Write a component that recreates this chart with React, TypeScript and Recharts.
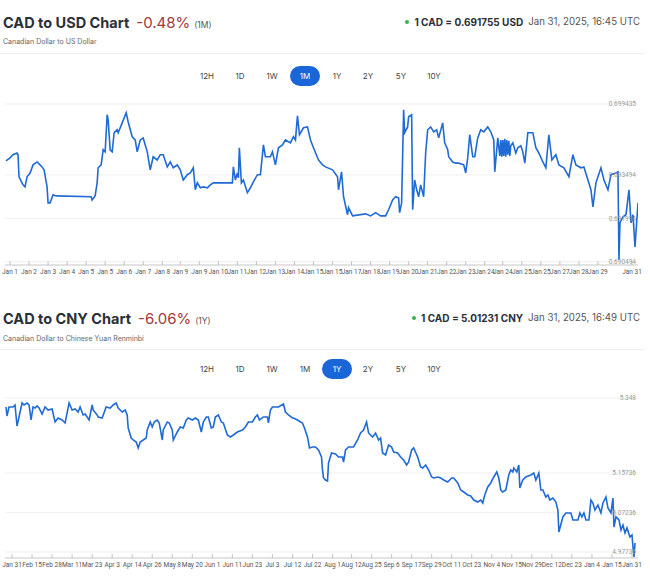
import React from 'react';
import { LineChart, Line, XAxis, YAxis, CartesianGrid } from 'recharts';

// ---------- CAD to USD (1M) ----------
const usdTime = [6,10,13,17,18,19,21,23,25,27,30,33,37,40,42,44,47,48,50,53,56,91,92,95,97,98,101,103,105,107,108,110,112,114,117,118,122,126,128,132,135,137,140,143,147,150,153,157,160,163,167,170,173,177,180,183,187,190,193,195,197,200,203,207,210,213,232,233,235,237,238,239,241,243,247,250,253,257,260,263,265,270,272,275,278,282,285,290,293,295,297,299,303,307,310,313,318,322,325,332,337,338,341,343,347,348,352,365,370,375,380,385,388,392,395,398,399,401,403,404,407,408,411,412,414,416,418,420,423,425,427,430,433,436,438,442,444,447,448,452,455,458,463,465,467,469,472,474,477,480,483,487,490,493,494,497,499,500,501,502,503,504,505,506,507,508,509,510,512,515,517,520,522,524,527,532,535,538,542,545,548,551,555,558,563,568,572,575,580,583,587,590,592,595,600,603,607,610,615,617,618,619,622,625,628,630,632,634,637];
const usdRate = [0.69398,0.69408,0.69419,0.69425,0.69419,0.69343,0.69329,0.69315,0.69308,0.69343,0.69356,0.69384,0.69394,0.69384,0.69377,0.69367,0.69308,0.69253,0.69253,0.69281,0.69277,0.69274,0.69263,0.69277,0.69322,0.69374,0.69384,0.69436,0.69429,0.69557,0.69539,0.69436,0.69429,0.69495,0.69505,0.69495,0.69529,0.69564,0.69532,0.69481,0.6947,0.69429,0.6947,0.69477,0.69429,0.69367,0.69412,0.69401,0.69419,0.69419,0.69377,0.69394,0.69374,0.69384,0.69367,0.69332,0.6935,0.69356,0.69374,0.69298,0.69322,0.69305,0.69308,0.69305,0.69315,0.69322,0.69322,0.69377,0.69332,0.69356,0.69339,0.69443,0.69322,0.69332,0.69288,0.69305,0.69325,0.6935,0.6935,0.69453,0.69412,0.69412,0.69429,0.69384,0.69443,0.69453,0.6947,0.6946,0.69481,0.6947,0.69553,0.69488,0.69512,0.69515,0.6947,0.69443,0.69401,0.69384,0.69377,0.69367,0.69343,0.69298,0.6936,0.69274,0.69212,0.69236,0.69208,0.69215,0.69208,0.69219,0.69208,0.69208,0.69229,0.69263,0.69274,0.6927,0.69219,0.69253,0.69574,0.69495,0.69515,0.6955,0.69557,0.69229,0.69332,0.69298,0.69274,0.69315,0.69274,0.69425,0.69505,0.69515,0.69498,0.69505,0.69477,0.69529,0.6946,0.69436,0.69412,0.69394,0.6939,0.6939,0.69384,0.69356,0.69408,0.69488,0.69412,0.69412,0.69477,0.69505,0.69498,0.69515,0.69498,0.6947,0.6936,0.69477,0.69415,0.6947,0.69412,0.6947,0.69415,0.69474,0.69412,0.6947,0.69419,0.69467,0.69415,0.6945,0.6946,0.69425,0.69443,0.6945,0.69429,0.6939,0.69495,0.69495,0.69443,0.69425,0.69394,0.69374,0.69488,0.69401,0.69419,0.69384,0.69374,0.69343,0.69419,0.69384,0.69374,0.69377,0.69332,0.69298,0.69239,0.69322,0.69374,0.69332,0.69298,0.6935,0.69356,0.6936,0.69056,0.69184,0.69205,0.69212,0.69298,0.69184,0.69212,0.69101,0.69253];
const usdXTicks = [10,29,48,67,86,105,124,143,162,180,199,218,237,256,275,294,313,332,351,370,389,408,427,446,465,484,502,521,540,559,578,597,631];
const usdXLabels = ['Jan 1','Jan 2','Jan 3','Jan 4','Jan 5','Jan 5','Jan 6','Jan 7','Jan 8','Jan 9','Jan 9','Jan 10','Jan 11','Jan 12','Jan 13','Jan 14','Jan 15','Jan 15','Jan 17','Jan 18','Jan 19','Jan 20','Jan 21','Jan 22','Jan 23','Jan 24','Jan 24','Jan 25','Jan 25','Jan 27','Jan 28','Jan 29','Jan 31'];
const usdYTicks = [0.690494, 0.691994, 0.693494, 0.69594];
const usdYLabels = ['0.690494', '0.691994', '0.693494', '0.699435'];
const usdYDomain = [0.690385, 0.69594];

// ---------- CAD to CNY (1Y) ----------
const cnyTime = [6,7,9,13,15,17,19,22,24,27,29,31,33,35,37,39,42,45,48,52,55,58,62,65,69,72,75,78,80,83,85,87,89,92,93,97,98,102,106,110,113,116,118,122,125,127,128,131,133,136,138,140,143,146,147,150,152,154,157,159,162,163,167,169,172,173,177,180,183,186,188,192,195,198,201,203,206,208,211,213,215,218,221,223,227,230,233,237,242,245,248,252,255,257,259,263,267,268,270,272,275,278,283,285,288,292,293,297,300,302,304,307,309,312,315,318,321,322,323,325,327,328,331,335,338,342,343,345,348,353,357,360,363,366,368,372,375,378,380,382,385,388,391,393,397,400,403,406,408,411,413,417,420,422,425,428,431,433,437,440,443,447,451,453,457,460,463,467,470,473,477,480,482,484,487,490,493,496,498,500,502,505,508,510,512,513,516,518,519,522,525,530,533,535,538,540,542,545,547,549,552,555,557,558,562,565,570,572,577,579,581,583,585,588,590,592,594,597,600,602,605,607,610,612,613,615,618,620,622,624,626,629,631,632,633,634];
const cnyRate = [5.2993,5.2799,5.2993,5.2993,5.3036,5.2584,5.2778,5.3079,5.3036,5.3079,5.3036,5.2713,5.2993,5.2971,5.3014,5.2971,5.2842,5.2993,5.2928,5.295,5.267,5.2756,5.2713,5.2649,5.3079,5.2928,5.295,5.2885,5.2993,5.2821,5.2842,5.2778,5.2713,5.3036,5.2928,5.2821,5.2778,5.2756,5.2993,5.2971,5.3036,5.3079,5.2971,5.2885,5.2928,5.2821,5.2541,5.2326,5.2283,5.224,5.2111,5.224,5.2283,5.2326,5.2498,5.267,5.2563,5.267,5.2713,5.2649,5.2283,5.2498,5.267,5.2649,5.2498,5.2283,5.2455,5.2563,5.2541,5.2713,5.2756,5.2713,5.2756,5.2713,5.2455,5.267,5.2778,5.2778,5.2541,5.2563,5.2778,5.2821,5.267,5.2649,5.2391,5.2348,5.2391,5.2455,5.2498,5.2563,5.267,5.267,5.2778,5.2821,5.2713,5.2778,5.2778,5.2649,5.2928,5.2993,5.2993,5.2993,5.3057,5.2885,5.2821,5.2756,5.2756,5.2713,5.267,5.2649,5.2541,5.2348,5.2111,5.2133,5.2133,5.2068,5.1918,5.1638,5.1466,5.1423,5.14,5.1789,5.2004,5.1982,5.1918,5.1918,5.181,5.2068,5.2133,5.2133,5.2283,5.2434,5.2498,5.267,5.2434,5.2348,5.2434,5.2283,5.2326,5.2004,5.1961,5.2176,5.2133,5.2025,5.2004,5.1918,5.1853,5.1746,5.181,5.2068,5.2111,5.1918,5.1703,5.1681,5.1746,5.1638,5.1488,5.1466,5.1488,5.1466,5.1423,5.138,5.1466,5.1466,5.1359,5.1208,5.1165,5.1101,5.108,5.0993,5.095,5.0993,5.0929,5.1101,5.1273,5.1359,5.1488,5.1595,5.1466,5.1208,5.1165,5.1208,5.1531,5.1638,5.1595,5.1681,5.1595,5.1746,5.1251,5.1423,5.1488,5.1531,5.1574,5.1423,5.1574,5.1208,5.1208,5.1058,5.1101,5.0993,5.1036,5.095,5.0778,5.0305,5.0628,5.0714,5.0714,5.0563,5.0563,5.0714,5.0628,5.0714,5.0563,5.0563,5.0993,5.0929,5.0778,5.0885,5.0714,5.0929,5.1058,5.0821,5.0714,5.1036,5.0413,5.0628,5.0563,5.0348,5.0456,5.0284,5.0392,5.0198,5.0241,4.9983,4.9768,5.0069];
const cnyXTicks = [12,32,52,72,92,112,132,152,172,192,212,232,252,272,292,312,332,351,371,391,411,431,451,471,491,511,531,551,571,591,611,631];
const cnyXLabels = ['Jan 31','Feb 15','Feb 28','Mar 11','Mar 23','Apr 3','Apr 14','Apr 26','May 8','May 20','Jun 1','Jun 11','Jun 23','Jul 3','Jul 12','Jul 22','Aug 1','Aug 12','Aug 25','Sep 6','Sep 17','Sep 29','Oct 11','Oct 23','Nov 4','Nov 15','Nov 29','Dec 12','Dec 23','Jan 4','Jan 15','Jan 31'];
const cnyYTicks = [4.9875, 5.072, 5.1574, 5.3186];
const cnyYLabels = ['4.97736', '5.07236', '5.15736', '5.348'];
const cnyYDomain = [4.9746, 5.3186];

const buttonLabels = ['12H', '1D', '1W', '1M', '1Y', '2Y', '5Y', '10Y'];
const buttonCenters = [207, 240, 272, 305, 337, 368, 401, 434];

const FONT = 'Inter, "Noto Sans", sans-serif';
const LINE_COLOR = '#1f6ad4';

type HeaderProps = {
  titleY: number; subY: number; sepY: number; btnY: number;
  title: string; change: string; period: string; subtitle: string;
  rate: string; date: string; active: string;
};

const Header = (p: HeaderProps) => (
  <>
    <div style={{ position: 'absolute', left: 3, top: p.titleY - 10, height: 20, lineHeight: '20px', whiteSpace: 'nowrap', fontFamily: FONT }}>
      <span style={{ fontSize: 14.5, fontWeight: 700, color: '#2b2f38' }}>{p.title}</span>
      <span style={{ fontSize: 15, fontWeight: 400, color: '#9e3a3a', marginLeft: 7 }}>{p.change}</span>
      <span style={{ fontSize: 8.5, color: '#555', marginLeft: 4 }}>{p.period}</span>
    </div>
    <div style={{ position: 'absolute', left: 3, top: p.subY - 5, height: 10, lineHeight: '10px', fontSize: 7, color: '#666', fontFamily: FONT, whiteSpace: 'nowrap' }}>{p.subtitle}</div>
    <div style={{ position: 'absolute', right: 10, top: p.titleY - 8, height: 16, lineHeight: '16px', whiteSpace: 'nowrap', fontFamily: FONT, display: 'flex', alignItems: 'center' }}>
      <span style={{ display: 'inline-block', width: 4, height: 4, borderRadius: 2, background: '#3dae4a', marginRight: 5 }} />
      <span style={{ fontSize: 10, fontWeight: 700, color: '#2b2f38' }}>{p.rate}</span>
      <span style={{ fontSize: 9.7, color: '#555', marginLeft: 5 }}>{p.date}</span>
    </div>
    <div style={{ position: 'absolute', left: 0, width: 645, top: p.sepY, height: 1, background: '#f0f0f2' }} />
    {buttonLabels.map((b, i) => {
      const active = b === p.active;
      return (
        <div key={b} style={{
          position: 'absolute', left: buttonCenters[i] - 15, width: 30, top: p.btnY - 10, height: 20,
          lineHeight: '20px', textAlign: 'center', borderRadius: 10, fontFamily: FONT, fontSize: 8,
          background: active ? '#1a66d8' : 'transparent', color: active ? '#fff' : '#444',
        }}>{b}</div>
      );
    })}
  </>
);

const makeXTick = (ticks: number[], labels: string[]) => (props: any) => {
  const { x, y, payload } = props;
  const i = ticks.indexOf(payload.value);
  return (
    <g>
      <line x1={x} x2={x} y1={y - 4} y2={y} stroke="#b5b5b5" strokeWidth={0.8} />
      <text x={x} y={y + 9} textAnchor="middle" fontSize={6.5} fill="#555" fontFamily="Roboto, sans-serif">{labels[i]}</text>
    </g>
  );
};

const makeYTick = (ticks: number[], labels: string[]) => (props: any) => {
  const { y, payload } = props;
  const i = ticks.indexOf(payload.value);
  return (
    <text x={636} y={y} dy={2.3} textAnchor="end" fontSize={6.5} fill="#9a9a9a" fontFamily="Roboto, sans-serif">{labels[i]}</text>
  );
};

type PanelChartProps = {
  top: number; height: number; data: { t: number; v: number }[];
  xTicks: number[]; xLabels: string[]; yTicks: number[]; yLabels: string[]; yDomain: number[];
};

const PanelChart = (p: PanelChartProps) => (
  <div style={{ position: 'absolute', left: 0, top: p.top }}>
    <LineChart width={650} height={p.height} data={p.data} margin={{ top: 9, right: 12, bottom: 0, left: 5 }}>
      <CartesianGrid horizontal vertical={false} stroke="#efefef" />
      <XAxis dataKey="t" type="number" domain={[5, 637]} ticks={p.xTicks} interval={0} height={20}
        tickSize={0} tickMargin={0} tickLine={false} axisLine={{ stroke: '#c4c4c4', strokeWidth: 0.8 }}
        tick={makeXTick(p.xTicks, p.xLabels)} allowDataOverflow />
      <YAxis type="number" orientation="right" mirror width={1} domain={p.yDomain} ticks={p.yTicks} interval={0}
        tickSize={0} tickMargin={0} tickLine={false} axisLine={false} tick={makeYTick(p.yTicks, p.yLabels)} allowDataOverflow />
      <Line type="linear" dataKey="v" stroke={LINE_COLOR} strokeWidth={1.6} dot={false} isAnimationActive={false} />
    </LineChart>
  </div>
);

const usdData = usdTime.map((t, i) => ({ t, v: usdRate[i] }));
const cnyData = cnyTime.map((t, i) => ({ t, v: cnyRate[i] }));

export default function App() {
  return (
    <div style={{ position: 'absolute', left: 0, top: 0, width: 650, height: 580, background: '#fff', overflow: 'hidden' }}>
      <Header titleY={22} subY={42} sepY={53} btnY={76}
        title="CAD to USD Chart" change="-0.48%" period="(1M)" subtitle="Canadian Dollar to US Dollar"
        rate="1 CAD = 0.691755 USD" date="Jan 31, 2025, 16:45 UTC" active="1M" />
      <PanelChart top={95} height={190} data={usdData} xTicks={usdXTicks} xLabels={usdXLabels}
        yTicks={usdYTicks} yLabels={usdYLabels} yDomain={usdYDomain} />
      <Header titleY={318} subY={339} sepY={349} btnY={369}
        title="CAD to CNY Chart" change="-6.06%" period="(1Y)" subtitle="Canadian Dollar to Chinese Yuan Renminbi"
        rate="1 CAD = 5.01231 CNY" date="Jan 31, 2025, 16:49 UTC" active="1Y" />
      <PanelChart top={389} height={189} data={cnyData} xTicks={cnyXTicks} xLabels={cnyXLabels}
        yTicks={cnyYTicks} yLabels={cnyYLabels} yDomain={cnyYDomain} />
    </div>
  );
}
